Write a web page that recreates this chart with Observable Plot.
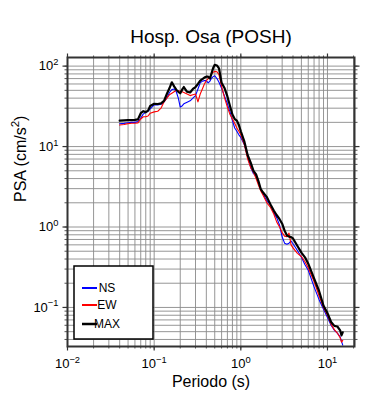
<!DOCTYPE html>
<html><head><meta charset="utf-8">
<script src="https://cdn.jsdelivr.net/npm/d3@7"></script>
<script src="https://cdn.jsdelivr.net/npm/@observablehq/plot@0.6"></script>
<style>
html,body{margin:0;padding:0;background:#fff;}
#chart{width:390px;height:400px;}
</style></head><body><div id="chart"></div>
<script>
const title = "Hosp. Osa (POSH)";
const xLabel = "Periodo (s)";
const yLabel = "PSA (cm/s²)";
const seriesNames = ["NS", "EW", "MAX"];
const seriesColors = ["#0000ff", "#ff0000", "#000000"];
const seriesWidths = [1.1, 1.1, 2.2];

const periods = [0.04,0.045,0.05,0.055,0.06,0.065,0.07,0.075,0.08,0.085,0.09,
  0.1,0.11,0.12,0.13,0.14,0.15,0.16,0.17,0.18,0.19,0.2,0.21,0.22,
  0.24,0.26,0.28,0.3,0.32,0.34,0.36,0.38,0.4,0.42,0.44,0.46,0.48,0.5,
  0.53,0.56,0.6,0.65,0.7,0.75,0.8,0.85,0.9,0.95,1.0,
  1.1,1.2,1.3,1.4,1.5,1.6,1.7,1.8,
  2.0,2.2,2.4,2.6,2.8,3.0,3.2,3.4,3.6,3.8,4.0,
  4.5,5,5.5,6,7,8,9,
  10,11,12,13,14,14.5,15];

const ns = [19.2,19.4,19.8,20,20,20.5,22.5,25.5,26.5,27.5,29.5,
  33,33,33.5,36,40,47,51,52,48,40,31,32,34,
  35.6,37,40,43,52,62,65,66,66,62,65,71,74,76,
  70,63,53,42,34,27,21,17,15.5,14,13,
  10.5,7.5,5.5,4.6,4.3,3.5,2.9,2.6,
  2.1,1.9,1.5,1.3,1.05,0.75,0.63,0.61,0.63,0.67,0.62,
  0.51,0.42,0.34,0.29,0.18,0.125,0.095,
  0.075,0.06,0.052,0.048,0.043,0.038,0.034];

const ew = [18.5,18.8,19.3,19.5,19.5,19.7,22,23.5,23.5,24,26,
  27,27.5,30,36,40,44,46,48,50,49,49,48,47,
  45,43,44,45,36,45,52,60,66,70,73,80,84,86,
  85,78,56,40,31,25,22,19.5,17,15.5,14,
  10.5,7.0,5.5,4.8,4.0,3.3,2.8,2.5,
  2.0,1.75,1.45,1.15,1.0,0.85,0.77,0.76,0.84,0.6,0.55,
  0.47,0.43,0.37,0.31,0.21,0.14,0.1,
  0.08,0.062,0.053,0.048,0.042,0.037,0.039];

const maxv = [21,21.2,21.3,21.3,21.5,21.8,26,27.5,26.8,28,32,
  34,33.8,34.5,37,45,53,63,56,51,48,46,51,55,
  48,47,52,55,60,66,69,72,74,74,70,82,95,104,
  102,94,62,53,42,32,25,22,21,18.5,15.5,
  11.5,7.8,6.3,5.0,4.5,3.7,2.95,2.7,
  2.35,1.9,1.6,1.4,1.25,1.1,0.9,0.79,0.76,0.75,0.72,
  0.58,0.48,0.42,0.35,0.23,0.16,0.105,
  0.085,0.066,0.059,0.058,0.052,0.045,0.049];

const xTicks = [0.01, 0.1, 1, 10];
const xTickLabels = ["10⁻²", "10⁻¹", "10⁰", "10¹"];
const yTicks = [0.1, 1, 10, 100];
const yTickLabels = ["10⁻¹", "10⁰", "10¹", "10²"];

const xDomain = [0.01, 20.5];
const yDomain = [0.0327, 128];
const mult = [1,2,3,4,5,6,7,8,9];
const xMinor = [0.01,0.1,1,10].flatMap(d => mult.map(k => k*d)).filter(v => v >= xDomain[0] && v <= xDomain[1]);
const yMinor = [0.01,0.1,1,10,100].flatMap(d => mult.map(k => k*d)).filter(v => v >= yDomain[0] && v <= yDomain[1]);

const seriesData = [ns, ew, maxv].map(vals => periods.map((T, i) => ({T, v: vals[i]})));

const M = {left: 67, right: 36, top: 57, bottom: 54};
const gridStyle = {stroke: "#8a8a8a", strokeWidth: 0.9};
const blank = () => "";

const svg = Plot.plot({
  width: 390, height: 400,
  marginLeft: M.left, marginRight: M.right, marginTop: M.top, marginBottom: M.bottom,
  style: {fontFamily: "'Liberation Sans', Arial, Helvetica, sans-serif", fontSize: "13px", color: "#000", background: "#fff", overflow: "visible"},
  x: {type: "log", domain: xDomain},
  y: {type: "log", domain: yDomain},
  marks: [
    Plot.ruleX(xMinor, gridStyle),
    Plot.ruleY(yMinor, gridStyle),
    // minor ticks all sides
    Plot.axisX({anchor: "bottom", ticks: xMinor, tickSize: 2.5, tickFormat: blank, label: null, stroke: "#555"}),
    Plot.axisX({anchor: "top", ticks: xMinor, tickSize: 2.5, tickFormat: blank, label: null, stroke: "#555"}),
    Plot.axisY({anchor: "left", ticks: yMinor, tickSize: 2.5, tickFormat: blank, label: null, stroke: "#555"}),
    Plot.axisY({anchor: "right", ticks: yMinor, tickSize: 2.5, tickFormat: blank, label: null, stroke: "#555"}),
    // major ticks
    Plot.axisX({anchor: "bottom", ticks: xTicks, tickSize: 4.5, tickPadding: 7.5, tickFormat: d => xTickLabels[xTicks.indexOf(d)], label: null, stroke: "#333", strokeWidth: 1.2}),
    Plot.axisX({anchor: "top", ticks: xTicks, tickSize: 4.5, tickFormat: blank, label: null, stroke: "#333", strokeWidth: 1.2}),
    Plot.axisY({anchor: "left", ticks: yTicks, tickSize: 4.5, tickPadding: 4.5, tickFormat: d => yTickLabels[yTicks.indexOf(d)], label: null, stroke: "#333", strokeWidth: 1.2}),
    Plot.axisY({anchor: "right", ticks: yTicks, tickSize: 4.5, tickFormat: blank, label: null, stroke: "#333", strokeWidth: 1.2}),
    // series
    ...seriesData.map((d, i) => Plot.line(d, {x: "T", y: "v", stroke: seriesColors[i], strokeWidth: seriesWidths[i], strokeLinejoin: "round"})),
    Plot.frame({stroke: "#333", strokeWidth: 2}),
    // texts
    Plot.text([title], {frameAnchor: "top", dy: -21, fontSize: 19, lineAnchor: "middle"}),
    Plot.text([xLabel], {frameAnchor: "bottom", dy: 35, fontSize: 16, lineAnchor: "middle"}),
    Plot.text([yLabel], {frameAnchor: "left", dx: -47, rotate: -90, fontSize: 16, lineAnchor: "middle"})
  ]
});

// Superscript rendering for exponents
const supMap = {"⁻": "−", "⁰": "0", "¹": "1", "²": "2", "³": "3"};
const NS_SVG = "http://www.w3.org/2000/svg";
svg.querySelectorAll("text").forEach(t => {
  if (t.querySelector("tspan")) return;
  const s = t.textContent;
  const chars = [...s];
  if (!chars.some(c => c in supMap)) return;
  const runs = [];
  chars.forEach(c => {
    const sup = c in supMap;
    const last = runs[runs.length - 1];
    if (last && last.sup === sup) last.text += sup ? supMap[c] : c;
    else runs.push({sup, text: sup ? supMap[c] : c});
  });
  t.textContent = "";
  let prevSup = false;
  runs.forEach(r => {
    const ts = document.createElementNS(NS_SVG, "tspan");
    ts.textContent = r.text;
    if (r.sup) { ts.setAttribute("font-size", "72%"); ts.setAttribute("dy", "-0.55em"); }
    else if (prevSup) { ts.setAttribute("dy", "0.4em"); }
    prevSup = r.sup;
    t.appendChild(ts);
  });
});

// Legend (inside the frame, bottom-left corner)
const frameBottom = 400 - M.bottom;
const lg = d3.select(svg).append("g").attr("font-family", "'Liberation Sans', Arial, sans-serif").attr("font-size", 12);
const boxX = M.left + 7, boxW = 79, boxH = 73, boxY = frameBottom - 7 - boxH;
lg.append("rect").attr("x", boxX).attr("y", boxY).attr("width", boxW).attr("height", boxH)
  .attr("fill", "#fff").attr("stroke", "#000").attr("stroke-width", 1.5);
const rowY = [22, 39, 58];
seriesNames.forEach((name, i) => {
  lg.append("line").attr("x1", boxX + 8).attr("x2", boxX + 23)
    .attr("y1", boxY + rowY[i]).attr("y2", boxY + rowY[i])
    .attr("stroke", seriesColors[i]).attr("stroke-width", i === 2 ? 2.5 : 2);
  lg.append("text").attr("x", boxX + 33).attr("y", boxY + rowY[i]).attr("dy", "0.35em")
    .attr("fill", "#000").text(name);
});

document.getElementById("chart").appendChild(svg);
</script>
</body></html>
